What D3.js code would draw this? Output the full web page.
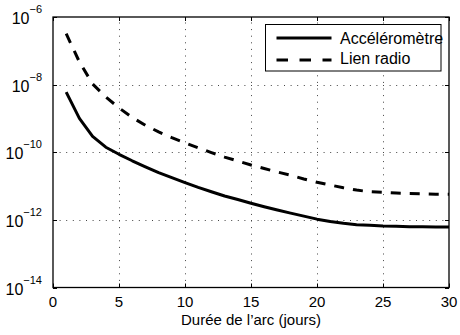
<!DOCTYPE html>
<html>
<head>
<meta charset="utf-8">
<script src="https://cdn.jsdelivr.net/npm/d3@7"></script>
<style>
  html, body { margin: 0; padding: 0; background: #fff; }
  svg { display: block; font-family: "Liberation Sans", Arial, Helvetica, sans-serif; }
</style>
</head>
<body>
<svg id="chart" width="460" height="335"></svg>
<script>
const days = [1,2,3,4,5,6,7,8,9,10,11,12,13,14,15,16,17,18,19,20,21,22,23,24,25,26,27,28,29,30];
const accelerometre = [6.0e-9,1.0e-9,2.95e-10,1.41e-10,8.7e-11,5.6e-11,3.7e-11,2.5e-11,1.78e-11,1.26e-11,
  9.1e-12,6.8e-12,5.1e-12,4.0e-12,3.1e-12,2.45e-12,1.95e-12,1.58e-12,1.29e-12,1.05e-12,
  8.9e-13,7.9e-13,7.2e-13,6.9e-13,6.6e-13,6.5e-13,6.3e-13,6.3e-13,6.2e-13,6.2e-13];
const lienRadio = [3.2e-7,4.7e-8,1.05e-8,4.3e-9,2.05e-9,1.07e-9,6.3e-10,4.0e-10,2.7e-10,1.9e-10,
  1.35e-10,9.8e-11,7.2e-11,5.5e-11,4.2e-11,3.3e-11,2.6e-11,2.1e-11,1.62e-11,1.29e-11,
  1.07e-11,8.9e-12,7.6e-12,6.8e-12,6.5e-12,6.2e-12,6.0e-12,5.9e-12,5.75e-12,5.75e-12];
const xTicks = [0,5,10,15,20,25,30];
const yTicks = [1e-14,1e-12,1e-10,1e-8,1e-6];
const yExponents = ["−14","−12","−10","−8","−6"];
const seriesNames = ["Accéléromètre","Lien radio"];
const xLabel = "Durée de l’arc (jours)";

const svg = d3.select("#chart");
const L = 53, R = 449, T = 17, B = 287.5;
const x = d3.scaleLinear().domain([0,30]).range([L,R]);
const y = d3.scaleLog().domain([1e-14,1e-6]).range([B,T]);

// grid
const grid = svg.append("g").attr("stroke","#444").attr("stroke-width",1).attr("stroke-dasharray","1,5.6");
grid.selectAll(".vg").data(xTicks.slice(1,-1)).join("line")
  .attr("x1",d=>Math.round(x(d))+0.5).attr("x2",d=>Math.round(x(d))+0.5)
  .attr("y1",B).attr("y2",T);
grid.selectAll(".hg").data(yTicks.slice(1,-1)).join("line")
  .attr("y1",d=>Math.round(y(d))+0.5).attr("y2",d=>Math.round(y(d))+0.5)
  .attr("x1",L).attr("x2",R);

// ticks (inward)
const tk = svg.append("g").attr("stroke","#000").attr("stroke-width",1);
xTicks.forEach(d=>{
  const px = Math.round(x(d))+0.5;
  tk.append("line").attr("x1",px).attr("x2",px).attr("y1",B).attr("y2",B-4);
  tk.append("line").attr("x1",px).attr("x2",px).attr("y1",T).attr("y2",T+4);
});
yTicks.forEach(d=>{
  const py = Math.round(y(d))+0.5;
  tk.append("line").attr("x1",L).attr("x2",L+4).attr("y1",py).attr("y2",py);
  tk.append("line").attr("x1",R).attr("x2",R-4).attr("y1",py).attr("y2",py);
});

// lines
const line = d3.line().x((d,i)=>x(days[i])).y(d=>y(d));
svg.append("path").datum(accelerometre).attr("d",line)
  .attr("fill","none").attr("stroke","#000").attr("stroke-width",3).attr("stroke-linejoin","round");
svg.append("path").datum(lienRadio).attr("d",line)
  .attr("fill","none").attr("stroke","#000").attr("stroke-width",3).attr("stroke-dasharray","10,9");

// frame
svg.append("rect").attr("x",L).attr("y",T).attr("width",R-L).attr("height",B-T)
  .attr("fill","none").attr("stroke","#000").attr("stroke-width",1.3);

// x tick labels
svg.append("g").selectAll("text").data(xTicks).join("text")
  .attr("x",d=>x(d)).attr("y",306.5).attr("text-anchor","middle")
  .attr("font-size",15).text(d=>d);

// y tick labels
svg.append("g").selectAll("text").data(yTicks).join("text")
  .attr("x",42).attr("y",d=>y(d)+7).attr("text-anchor","end").attr("font-size",16)
  .each(function(d,i){
    const t = d3.select(this);
    t.append("tspan").text("10");
    t.append("tspan").attr("dy",-11).attr("font-size",11).text(yExponents[i]);
  });

// x label
svg.append("text").attr("x",(L+R)/2).attr("y",324.5).attr("text-anchor","middle")
  .attr("font-size",15).text(xLabel);

// legend
const lg = svg.append("g");
lg.append("rect").attr("x",265.5).attr("y",24.5).attr("width",175.5).attr("height",46.5)
  .attr("fill","#fff").attr("stroke","#000").attr("stroke-width",1);
lg.append("line").attr("x1",276.5).attr("x2",331.5).attr("y1",38).attr("y2",38)
  .attr("stroke","#000").attr("stroke-width",3);
lg.append("line").attr("x1",276.5).attr("x2",331.5).attr("y1",60).attr("y2",60)
  .attr("stroke","#000").attr("stroke-width",3).attr("stroke-dasharray","11.5,11.5");
lg.append("text").attr("x",340).attr("y",43.5).attr("font-size",16).text(seriesNames[0]);
lg.append("text").attr("x",340).attr("y",63.5).attr("font-size",16).text(seriesNames[1]);
</script>
</body>
</html>
